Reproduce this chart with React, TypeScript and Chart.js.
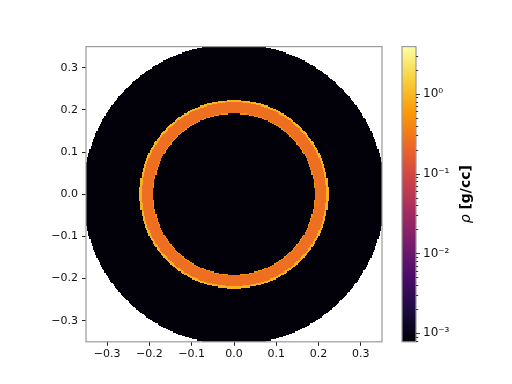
import React, { useEffect, useRef } from 'react';
import { Chart, registerables } from 'chart.js';
Chart.register(...registerables);

// ---- data ----
const axisMin = -0.35;
const axisMax = 0.35;
const xTickValues = [-0.3, -0.2, -0.1, 0.0, 0.1, 0.2, 0.3];
const yTickValues = [-0.3, -0.2, -0.1, 0.0, 0.1, 0.2, 0.3];
// density field: concentric shells (outer radius of each shell, density inside it)
const shellOuterRadius = [0.1905, 0.1925, 0.2185, 0.2235, 0.357];
const shellDensity = [8.5e-4, 0.5, 0.25, 0.9, 8.5e-4];
const gridCells = 256;
const colorbarMin = 7.8e-4;
const colorbarMax = 3.9;
const colorbarDecades = [-3, -2, -1, 0];
const colorbarTitleSymbol = 'ρ';
const colorbarTitleUnit = ' [g/cc]';

// inferno colormap stops (k/9)
const INFERNO = ['#000004', '#1b0c42', '#4b0c6b', '#781c6d', '#a52c60', '#cf4446', '#ed6925', '#fb9a06', '#f7d03c', '#fcffa4'];
const STOPS = INFERNO.map((h) => [parseInt(h.slice(1, 3), 16), parseInt(h.slice(3, 5), 16), parseInt(h.slice(5, 7), 16)]);
function infernoRGB(t: number): number[] {
  const tt = Math.max(0, Math.min(1, t)) * (STOPS.length - 1);
  const i = Math.min(STOPS.length - 2, Math.floor(tt));
  const f = tt - i;
  const a = STOPS[i], b = STOPS[i + 1];
  return [0, 1, 2].map((k) => Math.round(a[k] + (b[k] - a[k]) * f));
}
const lmin = Math.log10(colorbarMin);
const lmax = Math.log10(colorbarMax);
function densityRGB(v: number): number[] {
  return infernoRGB((Math.log10(v) - lmin) / (lmax - lmin));
}
function densityAt(r: number): number | null {
  for (let i = 0; i < shellOuterRadius.length; i++) {
    if (r <= shellOuterRadius[i]) return shellDensity[i];
  }
  return null;
}
const SUP: Record<string, string> = { '-': '⁻', '0': '⁰', '1': '¹', '2': '²', '3': '³', '4': '⁴' };
const fmtAxis = (v: number) => (v < -1e-9 ? '−' : '') + Math.abs(v).toFixed(1);
const FONT = "'DejaVu Sans', sans-serif";
const SPINE = '#9a9a9a';

export default function App() {
  const mainRef = useRef<HTMLCanvasElement>(null);
  const cbRef = useRef<HTMLCanvasElement>(null);

  useEffect(() => {
    const fieldPlugin = {
      id: 'field',
      beforeDatasetsDraw(chart: any) {
        const { ctx, chartArea, scales } = chart;
        const xs = scales.x, ys = scales.y;
        const L = Math.round(chartArea.left), T = Math.round(chartArea.top);
        const R = Math.round(chartArea.right), B = Math.round(chartArea.bottom);
        const W = R - L, H = B - T;
        const img = ctx.getImageData(L, T, W, H);
        const step = (axisMax - axisMin) / gridCells;
        const cellCenter = (v: number) => axisMin + (Math.min(gridCells - 1, Math.floor((v - axisMin) / step)) + 0.5) * step;
        for (let j = 0; j < H; j++) {
          const yc = cellCenter(ys.getValueForPixel(T + j + 0.5));
          for (let i = 0; i < W; i++) {
            const xc = cellCenter(xs.getValueForPixel(L + i + 0.5));
            const d = densityAt(Math.hypot(xc, yc));
            if (d === null) continue;
            const c = densityRGB(d);
            const o = (j * W + i) * 4;
            img.data[o] = c[0];
            img.data[o + 1] = c[1];
            img.data[o + 2] = c[2];
            img.data[o + 3] = 255;
          }
        }
        ctx.putImageData(img, L, T);
      },
      afterDraw(chart: any) {
        const { ctx, chartArea } = chart;
        ctx.save();
        ctx.strokeStyle = SPINE;
        ctx.lineWidth = 1.2;
        ctx.strokeRect(chartArea.left, chartArea.top, chartArea.right - chartArea.left, chartArea.bottom - chartArea.top);
        ctx.restore();
      },
    };

    const axisCommon = (values: number[], pad: number) => ({
      type: 'linear' as const,
      min: axisMin,
      max: axisMax,
      afterBuildTicks: (s: any) => {
        s.ticks = values.map((v) => ({ value: v }));
      },
      grid: { display: true, drawOnChartArea: false, drawTicks: true, tickLength: 4, tickColor: '#222', tickWidth: 1 },
      border: { display: false },
      ticks: {
        autoSkip: false,
        maxRotation: 0,
        padding: pad,
        color: '#111',
        font: { family: FONT, size: 11 },
        callback: (v: any) => fmtAxis(Number(v)),
      },
    });

    const main = new Chart(mainRef.current!, {
      type: 'scatter',
      data: { datasets: [] },
      options: {
        responsive: false,
        animation: false,
        devicePixelRatio: 1,
        layout: { padding: { left: 0, top: 46.6, right: 130, bottom: 0 } },
        plugins: { legend: { display: false }, tooltip: { enabled: false } },
        scales: {
          x: { ...axisCommon(xTickValues, 2), position: 'bottom', afterFit: (s: any) => { s.height = 42.2; } },
          y: { ...axisCommon(yTickValues, 4), position: 'left', afterFit: (s: any) => { s.width = 86; } },
        },
      },
      plugins: [fieldPlugin],
    } as any);

    const cbPlugin = {
      id: 'cb',
      beforeDatasetsDraw(chart: any) {
        const { ctx, chartArea, scales } = chart;
        const ys = scales.y;
        ctx.save();
        const top = Math.floor(chartArea.top), bot = Math.ceil(chartArea.bottom);
        for (let py = top; py < bot; py++) {
          const v = ys.getValueForPixel(py + 0.5);
          const c = densityRGB(Math.min(colorbarMax, Math.max(colorbarMin, v)));
          ctx.fillStyle = `rgb(${c[0]},${c[1]},${c[2]})`;
          ctx.fillRect(chartArea.left, py, chartArea.right - chartArea.left, 1);
        }
        ctx.restore();
      },
      afterDraw(chart: any) {
        const { ctx, chartArea, scales } = chart;
        const ys = scales.y;
        ctx.save();
        ctx.strokeStyle = SPINE;
        ctx.lineWidth = 1.2;
        ctx.strokeRect(chartArea.left, chartArea.top, chartArea.right - chartArea.left, chartArea.bottom - chartArea.top);
        // tick marks
        ctx.strokeStyle = '#222';
        ctx.lineWidth = 0.9;
        for (let e = -4; e <= 1; e++) {
          for (let k = 1; k <= 9; k++) {
            const v = k * Math.pow(10, e);
            if (v <= colorbarMin || v >= colorbarMax) continue;
            const py = Math.round(ys.getPixelForValue(v)) + 0.5;
            const len = k === 1 ? 4 : 2.2;
            ctx.beginPath();
            ctx.moveTo(chartArea.right, py);
            ctx.lineTo(chartArea.right + len, py);
            ctx.stroke();
          }
        }
        // title
        ctx.translate(466, (chartArea.top + chartArea.bottom) / 2);
        ctx.rotate(-Math.PI / 2);
        ctx.fillStyle = '#000';
        ctx.textBaseline = 'middle';
        const f1 = `italic 14px ${FONT}`;
        const f2 = `bold 14px ${FONT}`;
        ctx.font = f1;
        const w1 = ctx.measureText(colorbarTitleSymbol).width;
        ctx.font = f2;
        const w2 = ctx.measureText(colorbarTitleUnit).width;
        const x0 = -(w1 + w2) / 2;
        ctx.textAlign = 'left';
        ctx.font = f1;
        ctx.fillText(colorbarTitleSymbol, x0, 0);
        ctx.font = f2;
        ctx.fillText(colorbarTitleUnit, x0 + w1, 0);
        ctx.restore();
      },
    };

    const cb = new Chart(cbRef.current!, {
      type: 'bar',
      data: { labels: [''], datasets: [] },
      options: {
        responsive: false,
        animation: false,
        devicePixelRatio: 1,
        layout: { padding: { left: 402, top: 46.6, right: 56, bottom: 42.2 } },
        plugins: { legend: { display: false }, tooltip: { enabled: false } },
        scales: {
          x: { display: false },
          y: {
            type: 'logarithmic',
            position: 'right',
            min: colorbarMin,
            max: colorbarMax,
            afterBuildTicks: (s: any) => {
              s.ticks = colorbarDecades.map((e) => ({ value: Math.pow(10, e), major: true }));
            },
            afterFit: (s: any) => { s.width = 40; },
            grid: { display: true, drawOnChartArea: false, drawTicks: true, tickLength: 4, tickColor: 'rgba(0,0,0,0)' },
            border: { display: false },
            ticks: {
              autoSkip: false,
              padding: 3,
              color: '#111',
              font: { family: FONT, size: 12 },
              callback: (v: any) => {
                const e = Math.round(Math.log10(Number(v)));
                return '10' + String(e).split('').map((c) => SUP[c] || c).join('');
              },
            },
          },
        },
      },
      plugins: [cbPlugin],
    } as any);

    return () => {
      main.destroy();
      cb.destroy();
    };
  }, []);

  return (
    <div style={{ position: 'fixed', left: 0, top: 0, width: 512, height: 384, background: '#fff' }}>
      <canvas ref={mainRef} width={512} height={384} style={{ position: 'absolute', left: 0, top: 0 }} />
      <canvas ref={cbRef} width={512} height={384} style={{ position: 'absolute', left: 0, top: 0 }} />
    </div>
  );
}
